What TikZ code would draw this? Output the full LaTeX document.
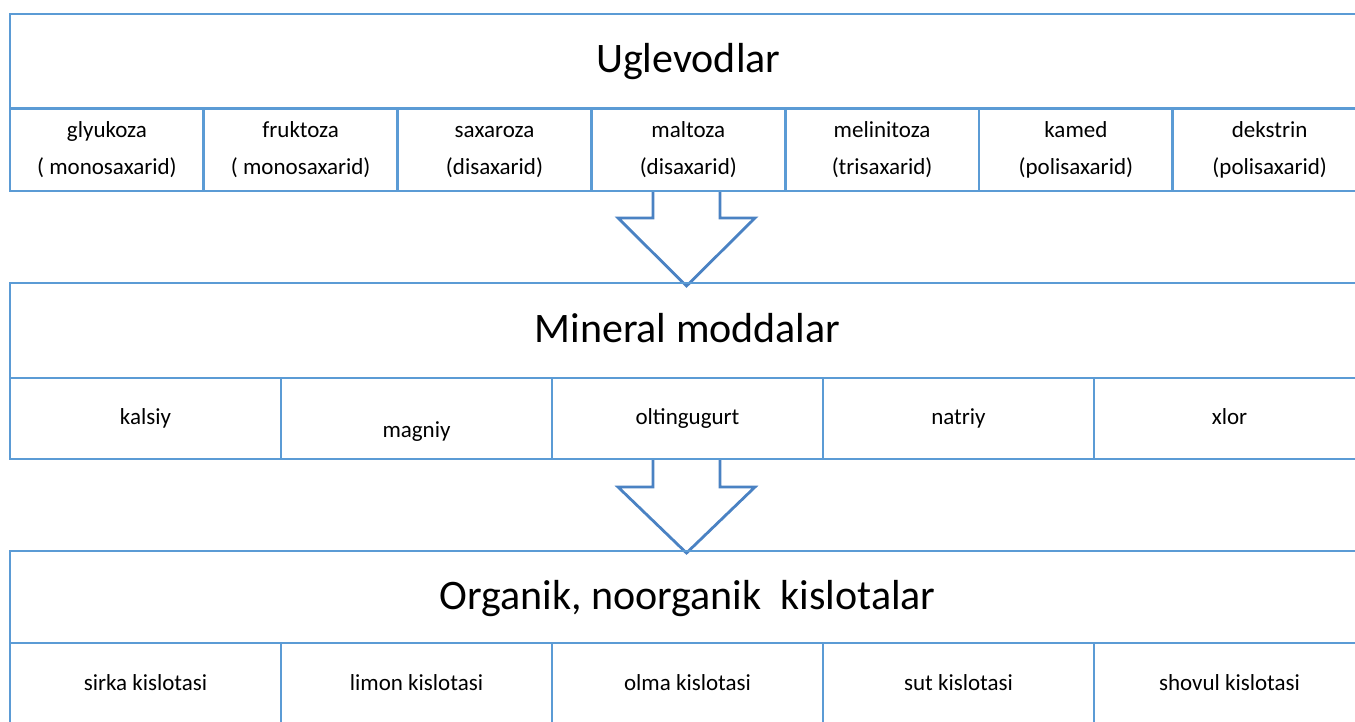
\documentclass[tikz,border=0pt]{standalone}
\usepackage{fontspec}
\setmainfont{Carlito}
\usetikzlibrary{positioning,calc,backgrounds}
\definecolor{tblue}{HTML}{5B9BD5}
\definecolor{ablue}{HTML}{4A82C3}
\tikzset{
  tbl/.style={draw=tblue, line width=2.8pt, outer sep=0pt, inner sep=0pt},
  head/.style={tbl, font=\fontsize{42}{42}\selectfont, text height=31pt, text depth=7pt},
  cell/.style={tbl, font=\fontsize{23}{37}\selectfont, text height=16pt, text depth=5pt},
  twocell/.style={tbl, font=\fontsize{23}{37}\selectfont, align=center},
  blockarrow/.style={draw=ablue, line width=2.8pt, fill=white, line join=miter},
}

\begin{document}
\begin{tikzpicture}[x=1pt,y=-1pt]
\useasboundingbox (0,0) rectangle (1355,722);

% Uglevodlar
\node[head, minimum width=1356.6pt, minimum height=94pt, anchor=north west] (ugl) at (10,14) {Uglevodlar};
\foreach \t [count=\i] in {{glyukoza\\( monosaxarid)}, {fruktoza\\( monosaxarid)}, {saxaroza\\(disaxarid)},
    {maltoza\\(disaxarid)}, {melinitoza\\(trisaxarid)}, {kamed\\(polisaxarid)}, {dekstrin\\(polisaxarid)}}
  \node[twocell, minimum width=193.8pt, minimum height=82pt, anchor=north west] (u\i) at (10+193.8*\i-193.8,109) {\vphantom{dy}\t\vphantom{(y}};

% Mineral moddalar
\node[head, minimum width=1355pt, minimum height=95pt, anchor=north west] (min) at (10,283) {Mineral moddalar};
\foreach \t/\h [count=\i] in {kalsiy/16, magniy/42, oltingugurt/16, natriy/16, xlor/16}
  \node[cell, text height=\h pt, minimum width=271pt, minimum height=81pt, anchor=north west] (m\i) at (10+271*\i-271,378) {\t};

% Organik, noorganik kislotalar
\node[head, minimum width=1355pt, minimum height=92pt, anchor=north west] (org) at (10,551) {Organik, noorganik\ \ kislotalar};
\foreach \t [count=\i] in {sirka kislotasi, limon kislotasi, olma kislotasi, sut kislotasi, shovul kislotasi}
  \node[cell, minimum width=271pt, minimum height=83pt, anchor=north west] (k\i) at (10+271*\i-271,643) {\t};

% arrows
\coordinate (a1) at ($(u4.south)+(-1.8,0)$);
\coordinate (a2) at ($(m3.south)+(-1,0)$);
\begin{scope}[on background layer]
  \fill[white] (0,0) rectangle (1355,722);
  \draw[blockarrow] ($(a1)+(-33.5,0)$) -- ++(0,27) -- ++(-35,0) -- ($(a1)+(0,95)$)
    -- ($(a1)+(68.5,27)$) -- ++(-35,0) -- ++(0,-27);
  \draw[blockarrow] ($(a2)+(-33.5,0)$) -- ++(0,28) -- ++(-35,0) -- ($(a2)+(0,94)$)
    -- ($(a2)+(68.5,28)$) -- ++(-35,0) -- ++(0,-28);
\end{scope}
\end{tikzpicture}
\end{document}
